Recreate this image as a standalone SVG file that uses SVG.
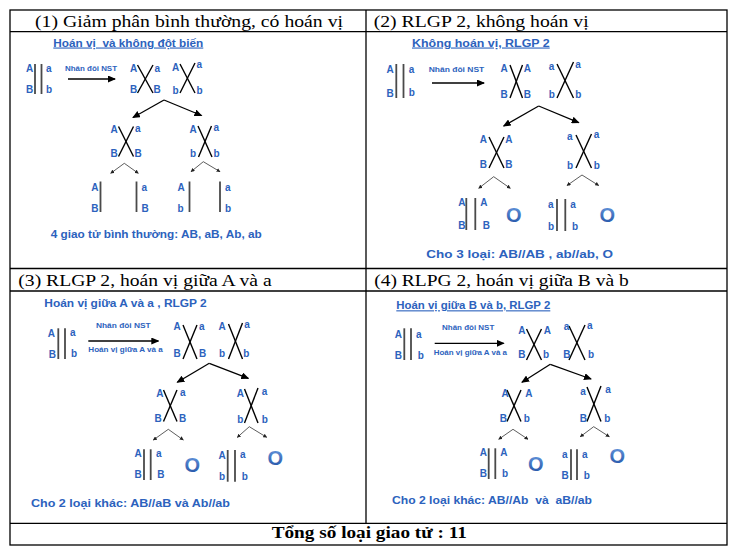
<svg xmlns="http://www.w3.org/2000/svg" width="735" height="558" viewBox="0 0 735 558">
<style>
.hd{font-family:"Liberation Serif","Times New Roman",serif;font-size:17.5px;fill:#000}
.ft{font-weight:bold}
.b{font-family:"Liberation Sans",Arial,sans-serif;font-weight:bold;fill:#2c62bd;font-size:10px}
.ti{font-size:11px}
.ul{text-decoration:underline}
.sm{font-size:7px}
.sum{font-size:11.5px}
.big{font-size:20px;fill:url(#og)}
.chr{stroke:#4a4a4a;stroke-width:1.8;fill:none}
.x{stroke:#000;stroke-width:1.4;fill:none}
.ar{stroke:#000;stroke-width:1.3;fill:none;marker-end:url(#ah)}
.ca{stroke:#333;stroke-width:0.8;fill:none;marker-end:url(#sh)}
.tb{stroke:#000;stroke-width:1.3;fill:none}
</style>
<defs>
<marker id="ah" markerUnits="userSpaceOnUse" markerWidth="8" markerHeight="7" refX="7" refY="3.5" orient="auto"><path d="M0,0 L8,3.5 L0,7 Z" fill="#000"/></marker>
<marker id="sh" markerUnits="userSpaceOnUse" markerWidth="4" markerHeight="4" refX="3.5" refY="2" orient="auto"><path d="M0,0 L4,2 L0,4 Z" fill="#222"/></marker>
<linearGradient id="og" x1="0" y1="0" x2="0" y2="1"><stop offset="0" stop-color="#6a9be0"/><stop offset="1" stop-color="#1f4fa3"/></linearGradient>
</defs>
<rect width="735" height="558" fill="#fff"/>
<g id="table">
<rect class="tb" x="10" y="10" width="717" height="535"/>
<line class="tb" x1="10" y1="31.7" x2="727" y2="31.7"/>
<line class="tb" x1="10" y1="268.5" x2="727" y2="268.5"/>
<line class="tb" x1="10" y1="291" x2="727" y2="291"/>
<line class="tb" x1="10" y1="523.3" x2="727" y2="523.3"/>
<line class="tb" x1="366" y1="10" x2="366" y2="523.3"/>
<text class="hd" x="35" y="26.7" textLength="308" lengthAdjust="spacingAndGlyphs">(1) Giảm phân bình thường, có hoán vị</text>
<text class="hd" x="373.7" y="26.7" textLength="215" lengthAdjust="spacingAndGlyphs">(2) RLGP 2, không hoán vị</text>
<text class="hd" x="18.3" y="285.7" textLength="253.4" lengthAdjust="spacingAndGlyphs">(3) RLGP 2, hoán vị giữa A và a</text>
<text class="hd" x="374.3" y="285.7" textLength="254.4" lengthAdjust="spacingAndGlyphs">(4) RLPG 2, hoán vị giữa B và b</text>
<text class="hd ft" x="271.7" y="538.3" textLength="195.3" lengthAdjust="spacingAndGlyphs">Tổng số loại giao tử : 11</text>
</g>

<g id="panel1">
<text class="b ti ul" x="53.3" y="46.5" textLength="150" lengthAdjust="spacingAndGlyphs">Hoán vị &#160;và không đột biến</text>
<g id="p1-pair">
<line class="chr" x1="35" y1="64" x2="35" y2="94"/><line class="chr" x1="41.5" y1="64" x2="41.5" y2="94"/>
<text class="b" x="26" y="71.5">A</text><text class="b" x="26" y="92.5">B</text>
<text class="b" x="46" y="71.5">a</text><text class="b" x="46" y="92.5">b</text>
</g>
<text class="b sm" x="65" y="71" textLength="52" lengthAdjust="spacingAndGlyphs">Nhân đôi NST</text>
<g id="p1-x1">
<line class="x" x1="137.5" y1="65" x2="153" y2="93"/><line class="x" x1="153" y1="65" x2="137.5" y2="93"/>
<text class="b" x="130" y="71.5">A</text><text class="b" x="154.5" y="71.5">a</text>
<text class="b" x="130" y="93">B</text><text class="b" x="153.5" y="93">B</text>
</g>
<g id="p1-x2">
<line class="x" x1="180" y1="64" x2="195" y2="93"/><line class="x" x1="195" y1="63" x2="180" y2="93"/>
<text class="b" x="172" y="70.5">A</text><text class="b" x="196.5" y="67.5">a</text>
<text class="b" x="172.5" y="93.5">b</text><text class="b" x="196.5" y="93.5">b</text>
</g>
<g id="p1-x3">
<line class="x" x1="118.5" y1="126.5" x2="133.5" y2="156.5"/><line class="x" x1="133.5" y1="126.5" x2="118.5" y2="156.5"/>
<text class="b" x="110.5" y="133">A</text><text class="b" x="135" y="132">a</text>
<text class="b" x="110.5" y="157">B</text><text class="b" x="134.5" y="157">B</text>
</g>
<g id="p1-x4">
<line class="x" x1="198" y1="126" x2="212" y2="157"/><line class="x" x1="211.5" y1="126" x2="198.5" y2="157"/>
<text class="b" x="189.5" y="133">A</text><text class="b" x="213.5" y="131">a</text>
<text class="b" x="190" y="157">b</text><text class="b" x="213.5" y="157">b</text>
</g>
<g id="p1-gametes">
<line class="chr" x1="100.5" y1="181.5" x2="100.5" y2="212"/><text class="b" x="91.2" y="190.7">A</text><text class="b" x="91.2" y="211.7">B</text>
<line class="chr" x1="136.5" y1="181.5" x2="136.5" y2="212"/><text class="b" x="141.5" y="190.7">a</text><text class="b" x="141.5" y="211.7">B</text>
<line class="chr" x1="189.5" y1="181.5" x2="189.5" y2="212"/><text class="b" x="177.5" y="190.7">A</text><text class="b" x="177.5" y="211.7">b</text>
<line class="chr" x1="220" y1="181.5" x2="220" y2="212"/><text class="b" x="225" y="190.7">a</text><text class="b" x="225" y="211.7">b</text>
</g>
<text class="b sum" x="50.7" y="238" textLength="211" lengthAdjust="spacingAndGlyphs">4 giao tử bình thường: AB, aB, Ab, ab</text>
<g id="p1-connectors">
<line class="ar" x1="68" y1="79" x2="115" y2="79"/>
<line class="ar" x1="164" y1="100" x2="133" y2="117.5"/>
<line class="ar" x1="164" y1="100" x2="201.5" y2="115.5"/>
<polyline class="ca" points="124.3,163.3 110.7,173.3"/><polyline class="ca" points="124.3,163.3 138.3,173.3"/>
<polyline class="ca" points="203.3,161.7 191,171.7"/><polyline class="ca" points="203.3,161.7 220,171.7"/>
</g>
</g>

<g id="panel2">
<text class="b ti ul" x="412" y="46.5" textLength="137.7" lengthAdjust="spacingAndGlyphs">Không hoán vị, RLGP 2</text>
<g id="p2-pair">
<line class="chr" x1="396.3" y1="64" x2="396.3" y2="98"/><line class="chr" x1="403.5" y1="64" x2="403.5" y2="98"/>
<text class="b" x="386.5" y="73">A</text><text class="b" x="386.5" y="96.5">B</text>
<text class="b" x="408.7" y="73">a</text><text class="b" x="408.7" y="96">b</text>
</g>
<text class="b sm" x="428.7" y="71.5" textLength="55.6" lengthAdjust="spacingAndGlyphs">Nhân đôi NST</text>
<g id="p2-x1">
<line class="x" x1="510" y1="65" x2="522.5" y2="98"/><line class="x" x1="522.5" y1="65" x2="510" y2="98"/>
<text class="b" x="500.5" y="72">A</text><text class="b" x="523.7" y="72">A</text>
<text class="b" x="500.5" y="97.7">B</text><text class="b" x="523.7" y="97.7">B</text>
</g>
<g id="p2-x2">
<line class="x" x1="557" y1="64" x2="573.5" y2="98"/><line class="x" x1="573.5" y1="62" x2="557" y2="98"/>
<text class="b" x="548.7" y="70">a</text><text class="b" x="575.3" y="68">a</text>
<text class="b" x="548.7" y="98">b</text><text class="b" x="575.3" y="98">b</text>
</g>
<g id="p2-x3">
<line class="x" x1="489" y1="137" x2="504" y2="168"/><line class="x" x1="504" y1="137" x2="489" y2="168"/>
<text class="b" x="479.8" y="142.7">A</text><text class="b" x="505.3" y="142.7">A</text>
<text class="b" x="479.8" y="168.3">B</text><text class="b" x="505.3" y="168.3">B</text>
</g>
<g id="p2-x4">
<line class="x" x1="576" y1="135" x2="591.5" y2="168"/><line class="x" x1="591.5" y1="134" x2="576" y2="168"/>
<text class="b" x="567" y="140">a</text><text class="b" x="593.7" y="138">a</text>
<text class="b" x="567" y="168.5">b</text><text class="b" x="593.7" y="168.5">b</text>
</g>
<g id="p2-gametes">
<line class="chr" x1="466.3" y1="198" x2="466.3" y2="230"/><line class="chr" x1="475.3" y1="198" x2="475.3" y2="230"/>
<text class="b" x="458.2" y="206">A</text><text class="b" x="480.3" y="206">A</text>
<text class="b" x="458.2" y="229.3">B</text><text class="b" x="482.7" y="228.5">B</text>
<text class="b big" x="506" y="222">O</text>
<line class="chr" x1="557" y1="199" x2="557" y2="231"/><line class="chr" x1="565.3" y1="199" x2="565.3" y2="231"/>
<text class="b" x="548" y="208.3">a</text><text class="b" x="570.3" y="208">a</text>
<text class="b" x="548" y="230">b</text><text class="b" x="572" y="230">b</text>
<text class="b big" x="599.5" y="222">O</text>
</g>
<text class="b sum" x="426.3" y="258.3" textLength="186.7" lengthAdjust="spacingAndGlyphs">Cho 3 loại: AB//AB , ab//ab, O</text>
<g id="p2-connectors">
<line class="ar" x1="432" y1="83" x2="484" y2="83"/>
<line class="ar" x1="538.7" y1="106" x2="503.7" y2="126"/>
<line class="ar" x1="538.7" y1="106" x2="578.7" y2="122.7"/>
<polyline class="ca" points="493.7,176.7 478.7,188.3"/><polyline class="ca" points="493.7,176.7 510.3,188.3"/>
<polyline class="ca" points="582,175 567,185.5"/><polyline class="ca" points="582,175 598.7,185.5"/>
</g>
</g>

<g id="panel3">
<text class="b ti" x="44.3" y="306.5" textLength="162.4" lengthAdjust="spacingAndGlyphs">Hoán vị giữa A và a , RLGP 2</text>
<g id="p3-pair">
<line class="chr" x1="58.3" y1="328.3" x2="58.3" y2="359"/><line class="chr" x1="65" y1="328.3" x2="65" y2="359"/>
<text class="b" x="47.8" y="336.5">A</text><text class="b" x="48.8" y="357.7">B</text>
<text class="b" x="70" y="335.7">a</text><text class="b" x="71" y="357">b</text>
</g>
<text class="b sm" x="96" y="328.3" textLength="54.7" lengthAdjust="spacingAndGlyphs">Nhân đôi NST</text>
<text class="b sm" x="88.3" y="352.3" textLength="74.4" lengthAdjust="spacingAndGlyphs">Hoán vị giữa A và a</text>
<g id="p3-x1">
<line class="x" x1="183" y1="325" x2="197" y2="359"/><line class="x" x1="197" y1="325" x2="183" y2="359"/>
<text class="b" x="173.5" y="330">A</text><text class="b" x="199" y="330">a</text>
<text class="b" x="173.5" y="356.7">B</text><text class="b" x="199" y="356.7">B</text>
</g>
<g id="p3-x2">
<line class="x" x1="228.5" y1="324" x2="242.5" y2="359"/><line class="x" x1="242.5" y1="323" x2="228.5" y2="359"/>
<text class="b" x="218.5" y="330">A</text><text class="b" x="244.3" y="328">a</text>
<text class="b" x="219" y="357">b</text><text class="b" x="243.3" y="357">b</text>
</g>
<g id="p3-x3">
<line class="x" x1="163.5" y1="390" x2="177" y2="421.5"/><line class="x" x1="177" y1="390" x2="163.5" y2="421.5"/>
<text class="b" x="156.2" y="397">A</text><text class="b" x="180" y="396">a</text>
<text class="b" x="154.5" y="421.7">B</text><text class="b" x="179" y="421.7">B</text>
</g>
<g id="p3-x4">
<line class="x" x1="244.5" y1="389" x2="258" y2="423"/><line class="x" x1="258" y1="388" x2="244.5" y2="423"/>
<text class="b" x="236.8" y="397">A</text><text class="b" x="261.7" y="395">a</text>
<text class="b" x="237.3" y="423.3">b</text><text class="b" x="261.7" y="423.3">b</text>
</g>
<g id="p3-gametes">
<line class="chr" x1="144" y1="449.3" x2="144" y2="480"/><line class="chr" x1="150.7" y1="449.3" x2="150.7" y2="480"/>
<text class="b" x="134.5" y="456.7">A</text><text class="b" x="156" y="456.7">a</text>
<text class="b" x="134.5" y="478.3">B</text><text class="b" x="157.3" y="478.3">B</text>
<text class="b big" x="184.5" y="471.7">O</text>
<line class="chr" x1="227.7" y1="450" x2="227.7" y2="481.7"/><line class="chr" x1="235" y1="450" x2="235" y2="481.7"/>
<text class="b" x="218.5" y="459.3">A</text><text class="b" x="240" y="458.3">a</text>
<text class="b" x="219" y="480">b</text><text class="b" x="241.7" y="480">b</text>
<text class="b big" x="267.5" y="465">O</text>
</g>
<text class="b sum" x="31" y="506.7" textLength="199" lengthAdjust="spacingAndGlyphs">Cho 2 loại khác: AB//aB và Ab//ab</text>
<g id="p3-connectors">
<line class="ar" x1="88.3" y1="341" x2="158.3" y2="341"/>
<line class="ar" x1="209.3" y1="363.3" x2="177.3" y2="382.3"/>
<line class="ar" x1="209.3" y1="363.3" x2="248.3" y2="378.3"/>
<polyline class="ca" points="168.3,429.3 153.3,440"/><polyline class="ca" points="168.3,429.3 183.3,440"/>
<polyline class="ca" points="249.3,426.7 237.3,437.3"/><polyline class="ca" points="249.3,426.7 266.7,437.3"/>
</g>
</g>

<g id="panel4">
<text class="b ti ul" x="396.3" y="309.3" textLength="154" lengthAdjust="spacingAndGlyphs">Hoán vị giữa B và b, RLGP 2</text>
<g id="p4-pair">
<line class="chr" x1="404.3" y1="328.3" x2="404.3" y2="360"/><line class="chr" x1="411" y1="328.3" x2="411" y2="360"/>
<text class="b" x="394.8" y="337.7">A</text><text class="b" x="394.8" y="359">B</text>
<text class="b" x="416" y="337.7">a</text><text class="b" x="417.7" y="359">b</text>
</g>
<text class="b sm" x="442" y="330" textLength="52.3" lengthAdjust="spacingAndGlyphs">Nhân đôi NST</text>
<text class="b sm" x="433.7" y="355" textLength="73.3" lengthAdjust="spacingAndGlyphs">Hoán vị giữa A và a</text>
<g id="p4-x1">
<line class="x" x1="526.5" y1="329" x2="541.5" y2="360"/><line class="x" x1="541.5" y1="329" x2="526.5" y2="360"/>
<text class="b" x="518.2" y="334.3">A</text><text class="b" x="543.7" y="334.3">A</text>
<text class="b" x="518.2" y="358.3">B</text><text class="b" x="543" y="358.3">b</text>
</g>
<g id="p4-x2">
<line class="x" x1="569" y1="326" x2="585" y2="360"/><line class="x" x1="585" y1="325" x2="569" y2="360"/>
<text class="b" x="563.7" y="330">a</text><text class="b" x="587" y="329">a</text>
<text class="b" x="563.2" y="358.3">B</text><text class="b" x="588" y="358.3">b</text>
</g>
<g id="p4-x3">
<line class="x" x1="507" y1="390" x2="521" y2="421.5"/><line class="x" x1="521" y1="390" x2="507" y2="421.5"/>
<text class="b" x="501.5" y="397">A</text><text class="b" x="525.3" y="397">A</text>
<text class="b" x="499.8" y="421.7">B</text><text class="b" x="523.7" y="421.7">b</text>
</g>
<g id="p4-x4">
<line class="x" x1="587" y1="387" x2="601" y2="421.5"/><line class="x" x1="601" y1="386" x2="587" y2="421.5"/>
<text class="b" x="580.3" y="395">a</text><text class="b" x="605.3" y="393">a</text>
<text class="b" x="579.8" y="421.7">B</text><text class="b" x="604.3" y="421.7">b</text>
</g>
<g id="p4-gametes">
<line class="chr" x1="488.7" y1="448.3" x2="488.7" y2="479"/><line class="chr" x1="495.3" y1="448.3" x2="495.3" y2="479"/>
<text class="b" x="479.8" y="456">A</text><text class="b" x="500.3" y="456">A</text>
<text class="b" x="479.8" y="477.3">B</text><text class="b" x="502" y="477">b</text>
<text class="b big" x="528" y="470.7">O</text>
<line class="chr" x1="571" y1="449.3" x2="571" y2="480"/><line class="chr" x1="577" y1="449.3" x2="577" y2="480"/>
<text class="b" x="562" y="458.3">a</text><text class="b" x="582" y="458">a</text>
<text class="b" x="561.5" y="479.3">B</text><text class="b" x="583.7" y="479">b</text>
<text class="b big" x="609.5" y="463.3">O</text>
</g>
<text class="b sum" x="392" y="504.3" textLength="200" lengthAdjust="spacingAndGlyphs">Cho 2 loại khác: AB//Ab &#160;và &#160;aB//ab</text>
<g id="p4-connectors">
<line class="ar" x1="434.7" y1="343.3" x2="503.7" y2="343.3"/>
<line class="ar" x1="550.3" y1="364.3" x2="522" y2="382.3"/>
<line class="ar" x1="550.3" y1="364.3" x2="591" y2="379"/>
<polyline class="ca" points="513,429.3 498.7,439.3"/><polyline class="ca" points="513,429.3 528,439.3"/>
<polyline class="ca" points="593.7,426.7 580.3,436.7"/><polyline class="ca" points="593.7,426.7 609.3,436.7"/>
</g>
</g>
</svg>
